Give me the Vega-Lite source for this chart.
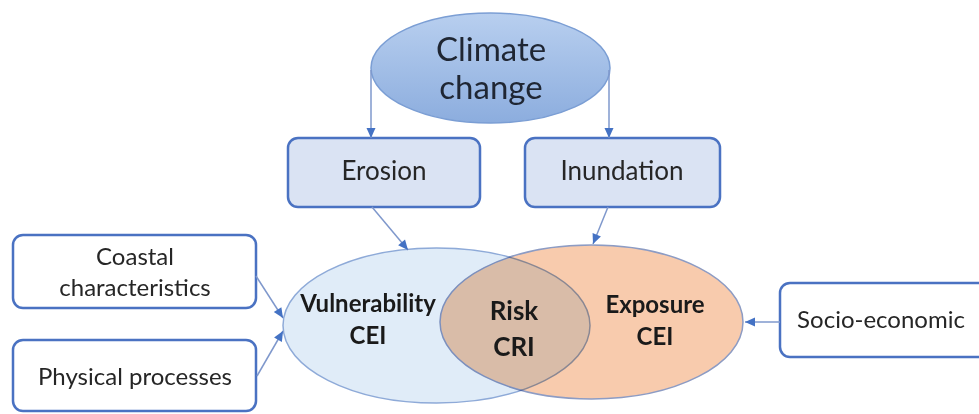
{
  "$schema": "https://vega.github.io/schema/vega-lite/v6.json",
  "width": 979,
  "height": 414,
  "padding": 0,
  "autosize": {"type": "none"},
  "background": "#ffffff",
  "config": {"view": {"stroke": null}},
  "datasets": {
    "arrows": [
      {"from": "Climate change", "to": "Erosion", "x1": 371, "y1": 70, "x2": 371, "y2": 138},
      {"from": "Climate change", "to": "Inundation", "x1": 609, "y1": 70, "x2": 609, "y2": 138},
      {"from": "Erosion", "to": "Vulnerability", "x1": 372, "y1": 207, "x2": 408, "y2": 250},
      {"from": "Inundation", "to": "Exposure", "x1": 608, "y1": 207, "x2": 593, "y2": 244},
      {"from": "Coastal characteristics", "to": "Vulnerability", "x1": 256, "y1": 276, "x2": 283, "y2": 318},
      {"from": "Physical processes", "to": "Vulnerability", "x1": 257, "y1": 376, "x2": 283, "y2": 331},
      {"from": "Socio-economic", "to": "Exposure", "x1": 780, "y1": 322, "x2": 745, "y2": 322}
    ]
  },
  "layer": [
    {
      "data": {"values": [{"name": "Vulnerability", "cx": 436.5, "cy": 325.5}]},
      "mark": {"type": "point", "shape": "M-1,0A1,0.505,0,1,0,1,0A1,0.505,0,1,0,-1,0Z", "size": 94249, "filled": true, "opacity": 1, "fill": "#e0ecf8", "stroke": "#8eaad8", "strokeWidth": 1.5},
      "encoding": {
        "x": {"field": "cx", "type": "quantitative", "scale": {"domain": [0, 979], "nice": false, "zero": false}, "axis": null},
        "y": {"field": "cy", "type": "quantitative", "scale": {"domain": [0, 414], "nice": false, "zero": false, "reverse": true}, "axis": null}
      }
    },
    {
      "data": {"values": [{"name": "Exposure", "cx": 591.5, "cy": 322}]},
      "mark": {"type": "point", "shape": "M-1,0A1,0.508,0,1,0,1,0A1,0.508,0,1,0,-1,0Z", "size": 91809, "filled": true, "opacity": 1, "fill": "#f8cbad", "stroke": "#8d9cc4", "strokeWidth": 1.5, "blend": "multiply"},
      "encoding": {
        "x": {"field": "cx", "type": "quantitative", "axis": null},
        "y": {"field": "cy", "type": "quantitative", "axis": null}
      }
    },
    {
      "data": {"values": [{"name": "Climate change", "cx": 490.5, "cy": 68}]},
      "mark": {"type": "point", "shape": "M-1,0A1,0.46,0,1,0,1,0A1,0.46,0,1,0,-1,0Z", "size": 57121, "filled": true, "opacity": 1,
        "fill": {"gradient": "linear", "x1": 0, "y1": 0, "x2": 0, "y2": 1, "stops": [{"offset": 0, "color": "#b8cfef"}, {"offset": 1, "color": "#8cadde"}]},
        "stroke": "#7b9ed4", "strokeWidth": 1.5},
      "encoding": {
        "x": {"field": "cx", "type": "quantitative", "axis": null},
        "y": {"field": "cy", "type": "quantitative", "axis": null}
      }
    },
    {
      "data": {"values": [
        {"name": "Erosion", "kind": "process", "left": 288, "right": 480, "top": 138, "bottom": 207},
        {"name": "Inundation", "kind": "process", "left": 525, "right": 720, "top": 138, "bottom": 207},
        {"name": "Coastal characteristics", "kind": "driver", "left": 13, "right": 256, "top": 235, "bottom": 308},
        {"name": "Physical processes", "kind": "driver", "left": 13, "right": 256, "top": 340, "bottom": 411},
        {"name": "Socio-economic", "kind": "driver", "left": 780, "right": 992, "top": 283, "bottom": 357}
      ]},
      "mark": {"type": "rect", "cornerRadius": 10, "stroke": "#4a72c2", "strokeWidth": 2.5},
      "encoding": {
        "x": {"field": "left", "type": "quantitative", "axis": null},
        "x2": {"field": "right"},
        "y": {"field": "top", "type": "quantitative", "axis": null},
        "y2": {"field": "bottom"},
        "fill": {"field": "kind", "type": "nominal", "scale": {"domain": ["process", "driver"], "range": ["#dae3f3", "#ffffff"]}, "legend": null}
      }
    },
    {
      "data": {"name": "arrows"},
      "mark": {"type": "rule", "color": "#7f98cc", "strokeWidth": 1.5},
      "encoding": {
        "x": {"field": "x1", "type": "quantitative", "axis": null},
        "y": {"field": "y1", "type": "quantitative", "axis": null},
        "x2": {"field": "x2"},
        "y2": {"field": "y2"}
      }
    },
    {
      "data": {"name": "arrows"},
      "transform": [{"calculate": "atan2(datum.x2 - datum.x1, datum.y1 - datum.y2) * 180 / PI", "as": "heading"}],
      "mark": {"type": "point", "shape": "M0,0L-0.45,1L0.45,1Z", "size": 400, "filled": true, "opacity": 1, "color": "#4472c4", "strokeWidth": 0},
      "encoding": {
        "x": {"field": "x2", "type": "quantitative", "axis": null},
        "y": {"field": "y2", "type": "quantitative", "axis": null},
        "angle": {"field": "heading", "type": "quantitative", "scale": null}
      }
    },
    {
      "data": {"values": [{"label": "Climate\nchange", "cx": 491, "cy": 51}]},
      "mark": {"type": "text", "font": "Lato", "fontSize": 33, "lineBreak": "\n", "lineHeight": 38, "align": "center", "baseline": "middle", "color": "#1f2633"},
      "encoding": {
        "x": {"field": "cx", "type": "quantitative", "axis": null},
        "y": {"field": "cy", "type": "quantitative", "axis": null},
        "text": {"field": "label"}
      }
    },
    {
      "data": {"values": [
        {"label": "Erosion", "cx": 384, "cy": 172},
        {"label": "Inundation", "cx": 622, "cy": 172}
      ]},
      "mark": {"type": "text", "font": "Lato", "fontSize": 26, "align": "center", "baseline": "middle", "color": "#262626"},
      "encoding": {
        "x": {"field": "cx", "type": "quantitative", "axis": null},
        "y": {"field": "cy", "type": "quantitative", "axis": null},
        "text": {"field": "label"}
      }
    },
    {
      "data": {"values": [
        {"label": "Coastal\ncharacteristics", "cx": 135, "cy": 258},
        {"label": "Physical processes", "cx": 135, "cy": 378},
        {"label": "Socio-economic", "cx": 881, "cy": 321}
      ]},
      "mark": {"type": "text", "font": "Lato", "fontSize": 24, "lineBreak": "\n", "lineHeight": 31, "align": "center", "baseline": "middle", "color": "#262626"},
      "encoding": {
        "x": {"field": "cx", "type": "quantitative", "axis": null},
        "y": {"field": "cy", "type": "quantitative", "axis": null},
        "text": {"field": "label"}
      }
    },
    {
      "data": {"values": [
        {"label": "Vulnerability\nCEI", "cx": 368, "cy": 305},
        {"label": "Exposure\nCEI", "cx": 655, "cy": 306}
      ]},
      "mark": {"type": "text", "font": "Lato", "fontSize": 24, "fontWeight": "bold", "lineBreak": "\n", "lineHeight": 32, "align": "center", "baseline": "middle", "color": "#1a1a1a"},
      "encoding": {
        "x": {"field": "cx", "type": "quantitative", "axis": null},
        "y": {"field": "cy", "type": "quantitative", "axis": null},
        "text": {"field": "label"}
      }
    },
    {
      "data": {"values": [{"label": "Risk\nCRI", "cx": 514, "cy": 312}]},
      "mark": {"type": "text", "font": "Lato", "fontSize": 26, "fontWeight": "bold", "lineBreak": "\n", "lineHeight": 36, "align": "center", "baseline": "middle", "color": "#1a1a1a"},
      "encoding": {
        "x": {"field": "cx", "type": "quantitative", "axis": null},
        "y": {"field": "cy", "type": "quantitative", "axis": null},
        "text": {"field": "label"}
      }
    }
  ]
}
